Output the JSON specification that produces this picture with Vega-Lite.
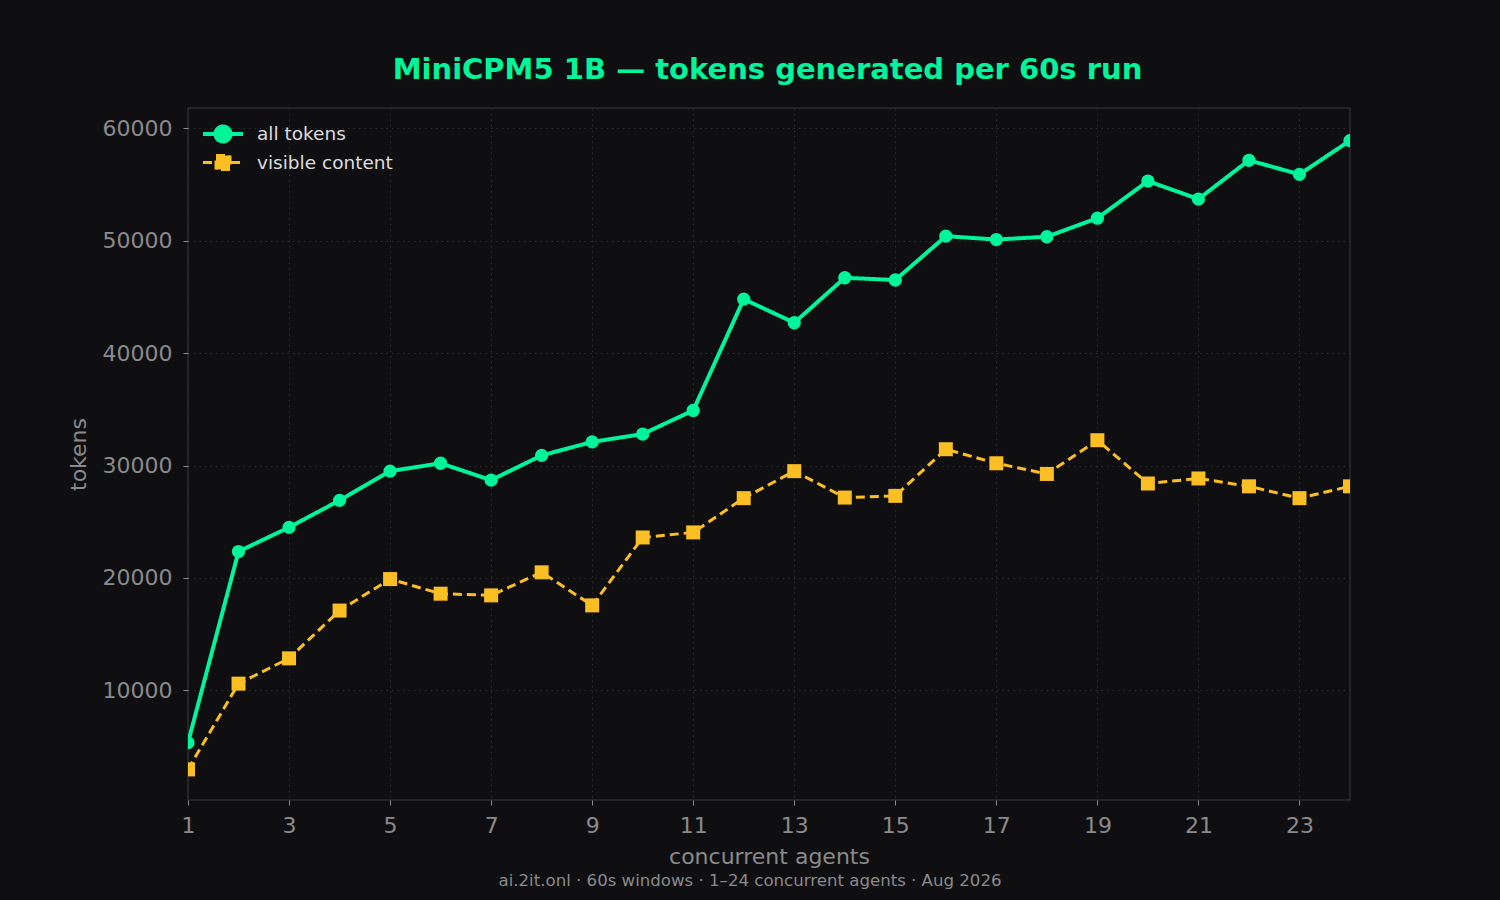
{
  "$schema": "https://vega.github.io/schema/vega-lite/v6.json",
  "background": "#0f0f12",
  "padding": {"left": 66, "top": 56, "right": 150, "bottom": 12},
  "title": {
    "text": "MiniCPM5 1B — tokens generated per 60s run",
    "color": "#00f59b",
    "fontSize": 29,
    "fontWeight": "bold",
    "font": "DejaVu Sans",
    "anchor": "middle",
    "offset": 22,
    "dx": 59
  },
  "config": {
    "font": "DejaVu Sans",
    "view": {"stroke": "#2c2c31", "strokeWidth": 1.5, "fill": "#0f0f12"},
    "axis": {
      "domain": false,
      "grid": true,
      "gridColor": "#2c2c2f",
      "gridDash": [1.5, 4],
      "gridWidth": 1,
      "tickColor": "#8a8a8a",
      "tickSize": 5,
      "labelColor": "#8a8a8a",
      "labelFontSize": 22,
      "labelFlush": false,
      "titleColor": "#8a8a8a",
      "titleFontSize": 22,
      "titleFontWeight": "normal"
    }
  },
  "vconcat": [
    {
      "width": 1162,
      "height": 692,
      "title": {
        "text": "ai.2it.onl · 60s windows · 1–24 concurrent agents · Aug 2026",
        "orient": "bottom",
        "fontSize": 16.6,
        "fontWeight": "normal",
        "color": "#8a8a8a",
        "anchor": "middle",
        "offset": 6,
        "dx": -19
      },
      "data": {
        "values": [
          {"agents": 1, "series": "all tokens", "tokens": 5350},
          {"agents": 2, "series": "all tokens", "tokens": 22350},
          {"agents": 3, "series": "all tokens", "tokens": 24500},
          {"agents": 4, "series": "all tokens", "tokens": 26900},
          {"agents": 5, "series": "all tokens", "tokens": 29500},
          {"agents": 6, "series": "all tokens", "tokens": 30200},
          {"agents": 7, "series": "all tokens", "tokens": 28700},
          {"agents": 8, "series": "all tokens", "tokens": 30900},
          {"agents": 9, "series": "all tokens", "tokens": 32100},
          {"agents": 10, "series": "all tokens", "tokens": 32800},
          {"agents": 11, "series": "all tokens", "tokens": 34900},
          {"agents": 12, "series": "all tokens", "tokens": 44800},
          {"agents": 13, "series": "all tokens", "tokens": 42700},
          {"agents": 14, "series": "all tokens", "tokens": 46700},
          {"agents": 15, "series": "all tokens", "tokens": 46500},
          {"agents": 16, "series": "all tokens", "tokens": 50400},
          {"agents": 17, "series": "all tokens", "tokens": 50100},
          {"agents": 18, "series": "all tokens", "tokens": 50350},
          {"agents": 19, "series": "all tokens", "tokens": 52000},
          {"agents": 20, "series": "all tokens", "tokens": 55300},
          {"agents": 21, "series": "all tokens", "tokens": 53700},
          {"agents": 22, "series": "all tokens", "tokens": 57150},
          {"agents": 23, "series": "all tokens", "tokens": 55900},
          {"agents": 24, "series": "all tokens", "tokens": 58900},
          {"agents": 1, "series": "visible content", "tokens": 2970},
          {"agents": 2, "series": "visible content", "tokens": 10600},
          {"agents": 3, "series": "visible content", "tokens": 12850},
          {"agents": 4, "series": "visible content", "tokens": 17100},
          {"agents": 5, "series": "visible content", "tokens": 19900},
          {"agents": 6, "series": "visible content", "tokens": 18600},
          {"agents": 7, "series": "visible content", "tokens": 18450},
          {"agents": 8, "series": "visible content", "tokens": 20500},
          {"agents": 9, "series": "visible content", "tokens": 17560},
          {"agents": 10, "series": "visible content", "tokens": 23600},
          {"agents": 11, "series": "visible content", "tokens": 24050},
          {"agents": 12, "series": "visible content", "tokens": 27100},
          {"agents": 13, "series": "visible content", "tokens": 29500},
          {"agents": 14, "series": "visible content", "tokens": 27150},
          {"agents": 15, "series": "visible content", "tokens": 27300},
          {"agents": 16, "series": "visible content", "tokens": 31450},
          {"agents": 17, "series": "visible content", "tokens": 30200},
          {"agents": 18, "series": "visible content", "tokens": 29250},
          {"agents": 19, "series": "visible content", "tokens": 32250},
          {"agents": 20, "series": "visible content", "tokens": 28400},
          {"agents": 21, "series": "visible content", "tokens": 28850},
          {"agents": 22, "series": "visible content", "tokens": 28150},
          {"agents": 23, "series": "visible content", "tokens": 27100},
          {"agents": 24, "series": "visible content", "tokens": 28150}
        ]
      },
      "encoding": {
        "x": {
          "field": "agents",
          "type": "quantitative",
          "scale": {"domain": [1, 24], "nice": false, "zero": false},
          "axis": {
            "values": [1, 3, 5, 7, 9, 11, 13, 15, 17, 19, 21, 23],
            "title": "concurrent agents",
            "labelPadding": 10,
            "titlePadding": 10
          }
        },
        "y": {
          "field": "tokens",
          "type": "quantitative",
          "scale": {"domain": [250, 61800], "nice": false, "zero": false},
          "axis": {
            "values": [10000, 20000, 30000, 40000, 50000, 60000],
            "format": "d",
            "title": "tokens",
            "labelPadding": 11,
            "titlePadding": 12
          }
        }
      },
      "layer": [
        {
          "transform": [{"filter": "datum.agents > 100"}],
          "mark": {"type": "point", "opacity": 1, "strokeWidth": 3.5},
          "encoding": {
            "fill": {
              "field": "series",
              "type": "nominal",
              "scale": {"domain": ["all tokens", "visible content"], "range": ["#00f59b", "#fbbf24"]},
              "legend": {
                "title": null,
                "orient": "none",
                "legendX": 23,
                "legendY": 14,
                "padding": 0,
                "symbolSize": 400,
                "symbolStrokeWidth": 3.5,
                "labelFontSize": 18.5,
                "labelColor": "#dddddd",
                "labelOffset": 22,
                "rowPadding": -1
              }
            },
            "stroke": {
              "field": "series",
              "type": "nominal",
              "scale": {"domain": ["all tokens", "visible content"], "range": ["#00f59b", "#fbbf24"]},
              "legend": {
                "title": null,
                "orient": "none",
                "legendX": 23,
                "legendY": 14,
                "padding": 0,
                "symbolSize": 400,
                "symbolStrokeWidth": 3.5,
                "labelFontSize": 18.5,
                "labelColor": "#dddddd",
                "labelOffset": 22,
                "rowPadding": -1
              }
            },
            "shape": {
              "field": "series",
              "type": "nominal",
              "scale": {
                "domain": ["all tokens", "visible content"],
                "range": [
                  "M-2,0H2M0.75,0A0.75,0.75,0,1,1,-0.75,0A0.75,0.75,0,1,1,0.75,0Z",
                  "M-2,0H2M-0.7,-0.7H0.7V0.7H-0.7Z"
                ]
              },
              "legend": {
                "title": null,
                "orient": "none",
                "legendX": 23,
                "legendY": 14,
                "padding": 0,
                "symbolSize": 400,
                "symbolStrokeWidth": 3.5,
                "labelFontSize": 18.5,
                "labelColor": "#dddddd",
                "labelOffset": 22,
                "rowPadding": -1
              }
            },
            "strokeDash": {
              "field": "series",
              "type": "nominal",
              "scale": {"domain": ["all tokens", "visible content"], "range": [[1, 0], [9, 5]]},
              "legend": {
                "title": null,
                "orient": "none",
                "legendX": 23,
                "legendY": 14,
                "padding": 0,
                "symbolSize": 400,
                "symbolStrokeWidth": 3.5,
                "labelFontSize": 18.5,
                "labelColor": "#dddddd",
                "labelOffset": 22,
                "rowPadding": -1
              }
            }
          }
        },
        {
          "mark": {"type": "line", "clip": true},
          "encoding": {
            "color": {
              "field": "series",
              "type": "nominal",
              "scale": {"domain": ["all tokens", "visible content"], "range": ["#00f59b", "#fbbf24"]},
              "legend": null
            },
            "strokeDash": {
              "field": "series",
              "type": "nominal",
              "scale": {"domain": ["all tokens", "visible content"], "range": [[1, 0], [9, 5]]},
              "legend": null
            },
            "strokeWidth": {
              "field": "series",
              "type": "nominal",
              "scale": {"domain": ["all tokens", "visible content"], "range": [4, 3]},
              "legend": null
            }
          }
        },
        {
          "transform": [{"filter": "datum.series === 'all tokens'"}],
          "mark": {"type": "point", "shape": "circle", "filled": true, "opacity": 1, "size": 177, "color": "#00f59b", "clip": true}
        },
        {
          "transform": [{"filter": "datum.series === 'visible content'"}],
          "mark": {"type": "point", "shape": "square", "filled": true, "opacity": 1, "size": 196, "color": "#fbbf24", "clip": true}
        }
      ]
    }
  ]
}
